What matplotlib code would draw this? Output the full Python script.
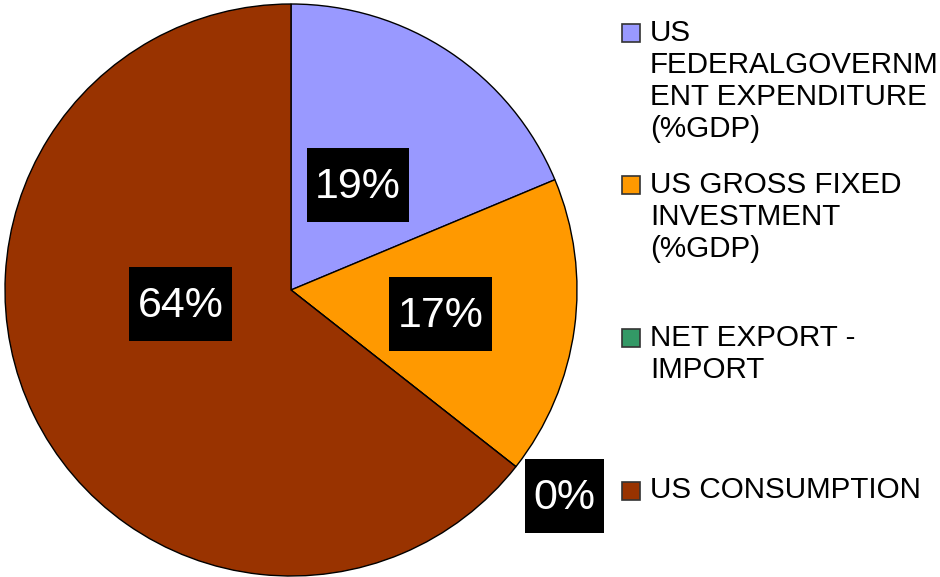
import numpy as np
import matplotlib
matplotlib.use("Agg")
import matplotlib.pyplot as plt
from matplotlib.patches import Rectangle

plt.rcParams['font.family'] = ['Liberation Sans', 'DejaVu Sans']

categories = [
    "US\nFEDERALGOVERNM\nENT EXPENDITURE\n(%GDP)",
    "US GROSS FIXED\nINVESTMENT\n(%GDP)",
    "NET EXPORT -\nIMPORT",
    "US CONSUMPTION",
]
values = [18.7, 16.9, 0.0, 64.4]
colors = ["#9999FF", "#FF9900", "#339966", "#993300"]

W, H = 940, 577
fig = plt.figure(figsize=(W / 100, H / 100), dpi=100)
R = 286
cx, cy = 291, 290  # pixels from left/top
ax = fig.add_axes([(cx - R) / W, (H - cy - R) / H, 2 * R / W, 2 * R / H])
wedges, _ = ax.pie(values, colors=colors, startangle=90, counterclock=False,
                   radius=1.0,
                   wedgeprops=dict(edgecolor="black", linewidth=1.0))
ax.set_xlim(-1, 1)
ax.set_ylim(-1, 1)
ax.set_aspect("equal")
ax.axis("off")

# label placement (radius fraction, angle in degrees)
label_polar = [(0.43, 57), (0.53, -9.8), (1.2, -37.3), (0.39, 188)]
texts = []
for v, (r, a) in zip(values, label_polar):
    x = r * np.cos(np.radians(a))
    y = r * np.sin(np.radians(a))
    t = ax.text(x, y, f"{v:.0f}%", ha="center", va="center", color="white",
                fontsize=31, clip_on=False, zorder=5)
    texts.append((t, x, y))

fig.canvas.draw()
renderer = fig.canvas.get_renderer()
for t, x, y in texts:
    bb = t.get_window_extent(renderer)
    wpx = bb.width + 17
    hpx = 74
    w = wpx / R
    h = hpx / R
    ax.add_patch(Rectangle((x - w / 2, y - h / 2 + 1.5 / R), w, h, facecolor="black",
                           edgecolor="none", zorder=4, clip_on=False))

# manual legend
line_h = 33
for i, (lab, c) in enumerate(zip(categories, colors)):
    yc = 81 + 136.3 * i
    n = lab.count("\n") + 1
    y_first = yc - (n - 1) / 2 * line_h
    fig.text(650 / W, 1 - yc / H, lab, ha="left", va="center", fontsize=21.3,
             linespacing=1.19)
    s = 18
    fig.patches.append(Rectangle(((622) / W, 1 - (y_first + s / 2 + 1) / H), s / W, s / H,
                                 transform=fig.transFigure, facecolor=c,
                                 edgecolor="#333333", linewidth=1.2))

fig.savefig("out.png", dpi=100)
